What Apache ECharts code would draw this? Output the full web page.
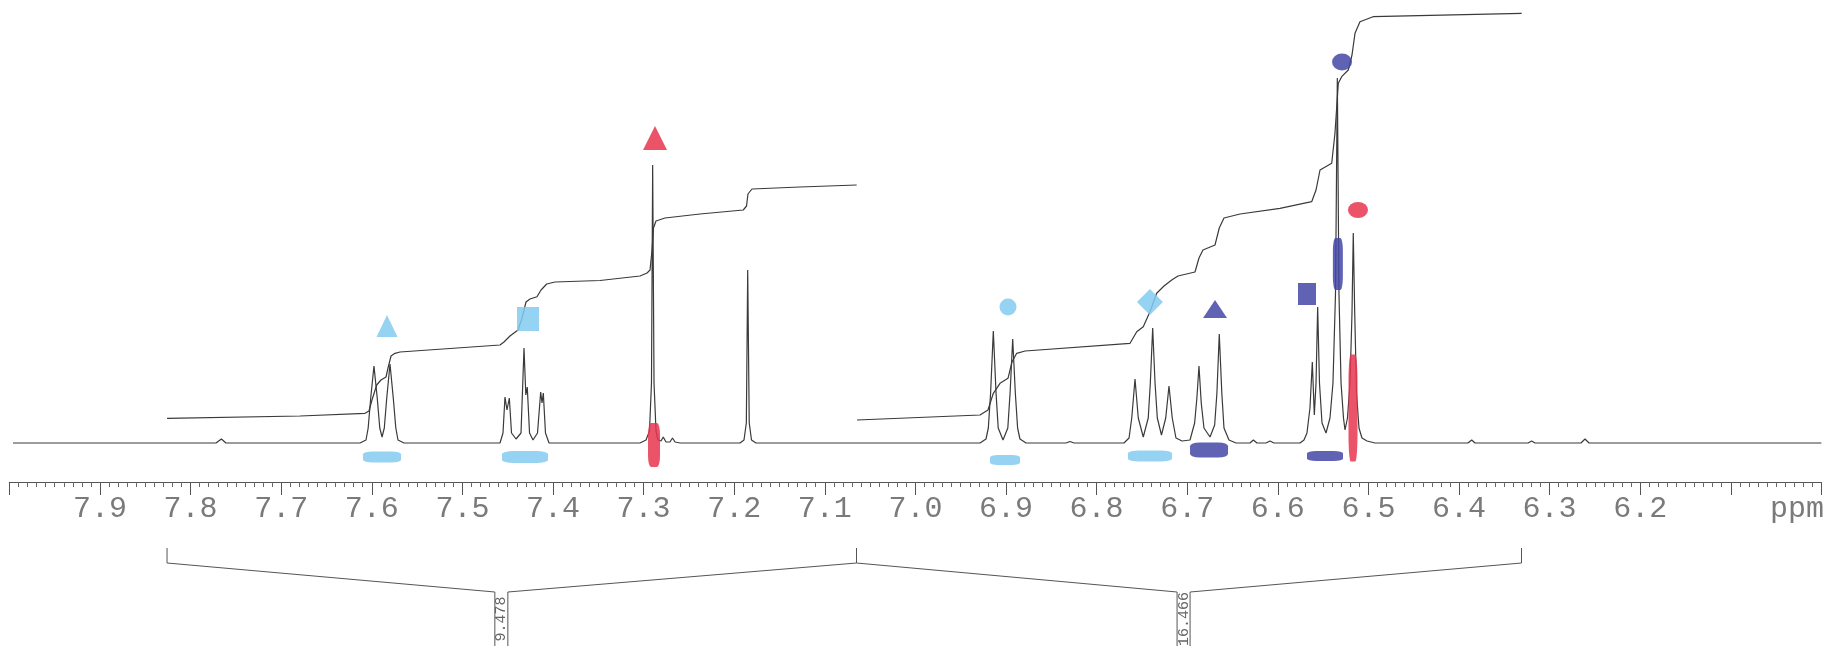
<!DOCTYPE html>
<html>
<head>
<meta charset="utf-8">
<script src="https://cdn.jsdelivr.net/npm/echarts@6/dist/echarts.min.js"></script>
<style>
  html, body { margin: 0; padding: 0; background: #fff; }
  #chart { width: 1825px; height: 646px; }
</style>
</head>
<body>
<div id="chart"></div>
<script>
// 1H NMR trace, [ppm, intensity]
const spectrum = [
  [7.996, 0],
  [7.772, 0], [7.766, 4], [7.761, 0],
  [7.6130, 0], [7.6064, 3], [7.6040, 15], [7.6012, 45], [7.5976, 77], [7.5940, 45], [7.5912, 15], [7.5887, 6],
  [7.5862, 15], [7.5835, 45], [7.5799, 79], [7.5763, 45], [7.5735, 15], [7.5711, 3], [7.5645, 0],
  [7.4585, 0], [7.4552, 10], [7.4530, 46], [7.4508, 33], [7.4482, 45], [7.4458, 10], [7.4408, 4], [7.4353, 10],
  [7.4320, 95], [7.4300, 48], [7.4284, 56], [7.4259, 10], [7.4221, 3], [7.4171, 10], [7.4136, 51], [7.4121, 40],
  [7.4107, 50], [7.4083, 10], [7.4044, 0],
  [7.3040, 0], [7.2973, 3], [7.2935, 12], [7.2913, 60], [7.2900, 278], [7.2885, 60], [7.2863, 12], [7.2841, 3],
  [7.2808, 2], [7.2783, 6], [7.2753, 1], [7.2709, 1], [7.2681, 5], [7.2653, 1], [7.2598, 0],
  [7.1936, 0], [7.1892, 3], [7.1866, 20], [7.1851, 173], [7.1834, 20], [7.1809, 3], [7.1759, 0],
  [6.9287, 0], [6.9221, 4], [6.9195, 15], [6.9170, 50], [6.9140, 112], [6.9110, 50], [6.9086, 15], [6.9033, 3],
  [6.8980, 15], [6.8955, 50], [6.8926, 104], [6.8897, 50], [6.8872, 15], [6.8846, 4], [6.8779, 0],
  [6.8338, 0], [6.8294, 1.5], [6.8249, 0],
  [6.7698, 0], [6.7642, 5], [6.7612, 25], [6.7576, 64], [6.7540, 25], [6.7485, 6], [6.7430, 25], [6.7407, 60],
  [6.7381, 115], [6.7355, 60], [6.7330, 25], [6.7284, 8], [6.7237, 25], [6.7201, 57], [6.7165, 25], [6.7124, 5],
  [6.7057, 2],
  [6.6969, 3], [6.6918, 20], [6.6893, 45], [6.6870, 77], [6.6845, 40], [6.6815, 15], [6.6748, 6], [6.6697, 18],
  [6.6672, 50], [6.6646, 109], [6.6618, 50], [6.6594, 15], [6.6539, 3], [6.6461, 0],
  [6.6307, 0], [6.6270, 3], [6.6230, 0], [6.6130, 0], [6.6086, 2], [6.6042, 0],
  [6.5755, 0], [6.5711, 3], [6.5678, 10], [6.5645, 35], [6.5619, 81], [6.5597, 28], [6.5578, 60], [6.5560, 136],
  [6.5540, 60], [6.5512, 20], [6.5468, 10], [6.5424, 25], [6.5391, 60], [6.5363, 150], [6.5343, 365], [6.5325, 150],
  [6.5302, 60], [6.5275, 25], [6.5258, 13], [6.5231, 25], [6.5203, 60], [6.5181, 130], [6.5167, 210], [6.5151, 130],
  [6.5131, 50], [6.5104, 15], [6.5071, 5], [6.5015, 2], [6.4927, 0],
  [6.3901, 0], [6.3860, 3], [6.3823, 0],
  [6.3238, 0], [6.3198, 2], [6.3161, 0],
  [6.2654, 0], [6.2609, 4], [6.2565, 0],
  [6.000, 0]
];

// integral curves
const integral1 = [
  [7.8260, 24.7], [7.6792, 27], [7.6075, 29.7], [7.6031, 32], [7.5998, 43], [7.5946, 58], [7.5899, 63],
  [7.5843, 66], [7.5821, 75], [7.5788, 87], [7.5744, 89.7], [7.5689, 91], [7.4585, 98], [7.4541, 101],
  [7.4475, 107], [7.4386, 113], [7.4342, 125], [7.4298, 141], [7.4254, 144], [7.4177, 146.3], [7.4132, 153],
  [7.4070, 159], [7.3978, 161], [7.3481, 162.5], [7.3040, 167], [7.2962, 170], [7.2929, 173], [7.2907, 193],
  [7.2891, 215], [7.2863, 222], [7.2764, 225], [7.2378, 229], [7.1900, 233], [7.1864, 237], [7.1848, 249],
  [7.1804, 254], [7.1274, 256], [7.0648, 258]
];
const integral2 = [
  [7.0645, 23], [6.9287, 28], [6.9199, 33], [6.9140, 49.7], [6.9066, 59.7], [6.8978, 64.7], [6.8934, 81],
  [6.8882, 89.7], [6.8790, 92], [6.7631, 99.7], [6.7557, 111.3], [6.7485, 116.3], [6.7411, 131.3],
  [6.7337, 149.7], [6.7256, 157], [6.7171, 163], [6.7102, 167], [6.6914, 171], [6.6870, 185], [6.6826, 193],
  [6.6693, 198], [6.6646, 215], [6.6594, 225], [6.6417, 229], [6.5976, 234.7], [6.5626, 241.3], [6.5578, 253],
  [6.5534, 273], [6.5405, 279.7], [6.5369, 309.7], [6.5332, 359.7], [6.5295, 366.3], [6.5222, 373],
  [6.5181, 388], [6.5148, 409.7], [6.5093, 421.3], [6.4949, 426.3], [6.3308, 429.7]
];

const tickLabels = ['7.9', '7.8', '7.7', '7.6', '7.5', '7.4', '7.3', '7.2', '7.1', '7.0',
  '6.9', '6.8', '6.7', '6.6', '6.5', '6.4', '6.3', '6.2'];
const unitLabel = 'ppm';
const unitPpm = 6.027;

const integralRanges = [[7.826, 7.065], [7.065, 6.331]];
const integralValues = ['9.478', '16.466'];
const integralLabelPpm = [7.457, 6.704];

// hand-drawn ink marks on the printout: position [ppm, intensity]
const annotPpm = [7.5832, 7.4276, 7.5887, 7.4309, 7.2874, 7.2885, 6.8978, 6.9011, 6.7411, 6.7411,
  6.6693, 6.6759, 6.5678, 6.5479, 6.5291, 6.5337, 6.5115, 6.5170];
const annotInt = [117, 124, -14, -14, 305, -2, 136, -17, 141, -13,
  134, -7, 149, -13, 381, 179, 233, 35];

// look of each ink mark, same order
const LB = '#84cbf1', DB = '#4448a6', RD = '#e8354f';
const annotLook = [
  ['triangle', LB, [21, 22]], ['rect', LB, [22, 24]], ['roundRect', LB, [38, 11]], ['roundRect', LB, [46, 12]],
  ['triangle', RD, [24, 24]], ['roundRect', RD, [12, 44]],
  ['circle', LB, [17, 17]], ['roundRect', LB, [30, 10]], ['diamond', LB, [26, 26]], ['roundRect', LB, [44, 11]],
  ['triangle', DB, [24, 18]], ['roundRect', DB, [38, 15]],
  ['rect', DB, [18, 22]], ['roundRect', DB, [36, 10]], ['circle', DB, [20, 17]], ['roundRect', DB, [10, 52]],
  ['circle', RD, [20, 16]], ['roundRect', RD, [9, 107]]
];

const lineColor = '#3a3a3a';
const rulerColor = '#555';
const textColor = '#7a7a7a';

const chart = echarts.init(document.getElementById('chart'));

const annotData = annotPpm.map((p, i) => ({
  value: [p, annotInt[i]],
  symbol: annotLook[i][0],
  symbolSize: annotLook[i][2],
  itemStyle: { color: annotLook[i][1], opacity: 0.85 }
}));

chart.setOption({
  animation: false,
  backgroundColor: '#fff',
  grid: { left: 9.4, right: 3.6, top: 3, height: 470 },
  xAxis: {
    type: 'value',
    min: 6.0,
    max: 8.0,
    inverse: true,
    interval: 0.1,
    offset: 9,
    axisLine: { onZero: false, lineStyle: { color: rulerColor, width: 1.2 } },
    axisTick: { length: 13, lineStyle: { color: rulerColor } },
    minorTick: { show: true, splitNumber: 10, length: 5, lineStyle: { color: '#666' } },
    splitLine: { show: false },
    minorSplitLine: { show: false },
    axisLabel: {
      margin: 12,
      fontFamily: 'Liberation Mono',
      fontSize: 30,
      color: textColor,
      formatter: v => {
        const s = Number(v).toFixed(1);
        return tickLabels.indexOf(s) >= 0 ? s : '';
      }
    }
  },
  yAxis: { type: 'value', min: -30, max: 440, show: false },
  series: [
    {
      type: 'line', data: spectrum, showSymbol: false, silent: true,
      lineStyle: { color: lineColor, width: 1.2 }
    },
    {
      type: 'line', data: integral1, showSymbol: false, silent: true,
      lineStyle: { color: lineColor, width: 1.2 }
    },
    {
      type: 'line', data: integral2, showSymbol: false, silent: true,
      lineStyle: { color: lineColor, width: 1.2 }
    },
    {
      type: 'scatter', data: annotData, z: 5, silent: true, clip: false
    }
  ]
});

// integral brackets + values under the ruler, and the unit label
const px = p => chart.convertToPixel({ xAxisIndex: 0 }, p);
const graphics = [];
const yTop = 548, yKnee = 563, yBox = 592, yEnd = 646, halfBox = 6.5;
integralRanges.forEach((r, i) => {
  const xa = px(r[0]), xb = px(r[1]), xm = px(integralLabelPpm[i]);
  graphics.push({
    type: 'polyline',
    shape: { points: [[xa, yTop], [xa, yKnee], [xm - halfBox, yBox], [xm - halfBox, yEnd]] },
    style: { stroke: rulerColor, fill: null, lineWidth: 1 }
  });
  graphics.push({
    type: 'polyline',
    shape: { points: [[xm + halfBox, yEnd], [xm + halfBox, yBox], [xb, yKnee], [xb, yTop]] },
    style: { stroke: rulerColor, fill: null, lineWidth: 1 }
  });
  graphics.push({
    type: 'text',
    x: xm, y: (yBox + yEnd) / 2,
    rotation: Math.PI / 2,
    style: {
      text: integralValues[i], fontFamily: 'Liberation Mono', fontSize: 15,
      fill: '#666', align: 'center', verticalAlign: 'middle'
    }
  });
});
graphics.push({
  type: 'text',
  x: px(unitPpm), y: 482 + 12,
  style: {
    text: unitLabel, fontFamily: 'Liberation Mono', fontSize: 30,
    fill: textColor, align: 'center', verticalAlign: 'top'
  }
});
chart.setOption({ graphic: graphics });
</script>
</body>
</html>
